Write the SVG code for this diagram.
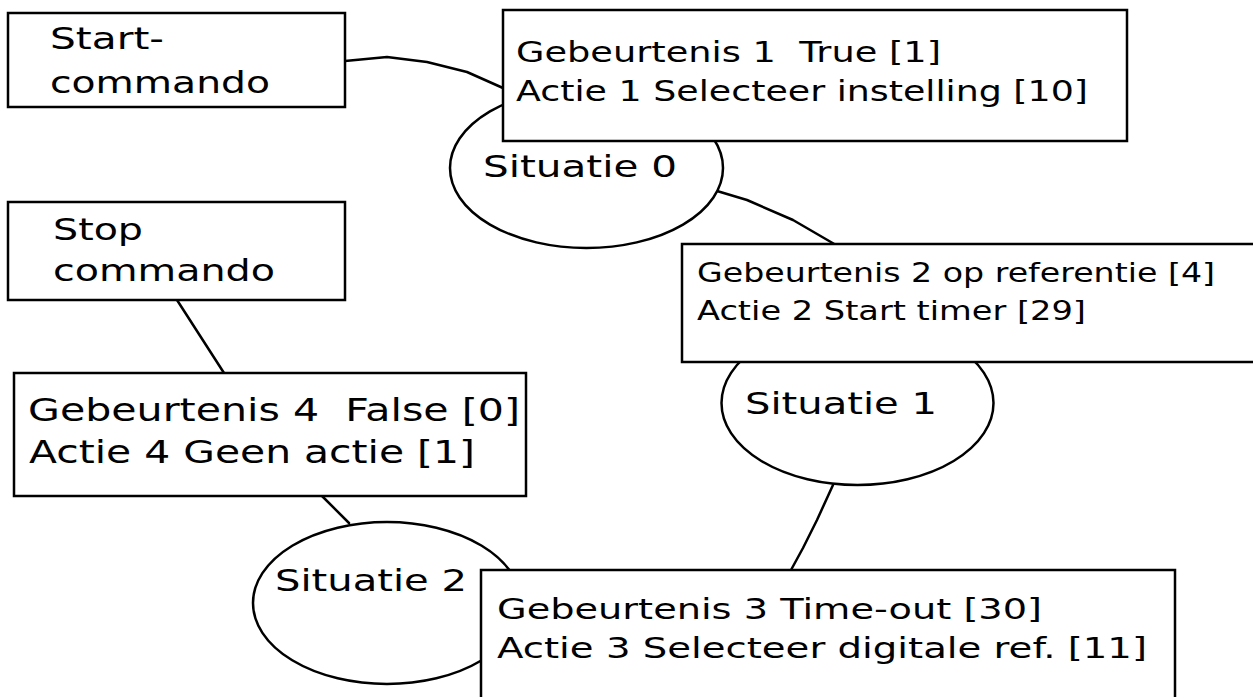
<svg xmlns="http://www.w3.org/2000/svg" width="1253" height="697" viewBox="0 0 1253 697">
<style>
.shape{fill:#fff;stroke:#000;stroke-width:2.5}
.conn{fill:none;stroke:#000;stroke-width:2.5;stroke-linejoin:round;stroke-linecap:round}
text{font-family:"DejaVu Sans","Verdana",sans-serif;fill:#000}
</style>
<rect width="1253" height="697" fill="#fff"/>
<g id="connectors">
<polyline class="conn" points="345,61 387,57 427,62 467,72 503,88"/>
<polyline class="conn" points="717,191 747,200 793,220 836,245"/>
<line class="conn" x1="177" y1="300" x2="224" y2="373"/>
<line class="conn" x1="322" y1="496" x2="349" y2="523"/>
<polyline class="conn" points="833,485 817,520 803,548 791,570"/>
</g>
<g id="situatie0">
<ellipse class="shape" cx="586.5" cy="168" rx="136.5" ry="80"/>
<text x="483" y="177" font-size="31" textLength="194" lengthAdjust="spacingAndGlyphs">Situatie 0</text>
</g>
<g id="situatie1">
<ellipse class="shape" cx="857.5" cy="403" rx="136" ry="82"/>
<text x="745" y="414" font-size="31" textLength="192" lengthAdjust="spacingAndGlyphs">Situatie 1</text>
</g>
<g id="situatie2">
<ellipse class="shape" cx="387" cy="603" rx="134" ry="81"/>
<text x="275" y="591" font-size="31" textLength="192" lengthAdjust="spacingAndGlyphs">Situatie 2</text>
</g>
<g id="start">
<rect class="shape" x="8" y="13" width="337" height="94"/>
<text x="50" y="49" font-size="31" textLength="114" lengthAdjust="spacingAndGlyphs">Start-</text>
<text x="50" y="93" font-size="31" textLength="220" lengthAdjust="spacingAndGlyphs">commando</text>
</g>
<g id="stop">
<rect class="shape" x="8" y="202" width="337" height="98"/>
<text x="53" y="240" font-size="31" textLength="90" lengthAdjust="spacingAndGlyphs">Stop</text>
<text x="53" y="281" font-size="31" textLength="222" lengthAdjust="spacingAndGlyphs">commando</text>
</g>
<g id="gebeurtenis1">
<rect class="shape" x="503" y="10" width="624" height="131"/>
<text x="516" y="62" font-size="27.5" textLength="425" lengthAdjust="spacingAndGlyphs" xml:space="preserve">Gebeurtenis 1  True [1]</text>
<text x="516" y="101" font-size="27.5" textLength="572" lengthAdjust="spacingAndGlyphs">Actie 1 Selecteer instelling [10]</text>
</g>
<g id="gebeurtenis2">
<rect class="shape" x="682" y="244" width="600" height="118"/>
<text x="697" y="282" font-size="26" textLength="518" lengthAdjust="spacingAndGlyphs">Gebeurtenis 2 op referentie [4]</text>
<text x="697" y="320" font-size="26" textLength="389" lengthAdjust="spacingAndGlyphs">Actie 2 Start timer [29]</text>
</g>
<g id="gebeurtenis4">
<rect class="shape" x="14" y="373" width="512" height="123"/>
<text x="28" y="421" font-size="31.5" textLength="492" lengthAdjust="spacingAndGlyphs" xml:space="preserve">Gebeurtenis 4  False [0]</text>
<text x="29" y="463" font-size="31.5" textLength="446" lengthAdjust="spacingAndGlyphs">Actie 4 Geen actie [1]</text>
</g>
<g id="gebeurtenis3">
<rect class="shape" x="481" y="570" width="694" height="150"/>
<text x="497" y="619" font-size="29" textLength="545" lengthAdjust="spacingAndGlyphs">Gebeurtenis 3 Time-out [30]</text>
<text x="497" y="658" font-size="29" textLength="650" lengthAdjust="spacingAndGlyphs">Actie 3 Selecteer digitale ref. [11]</text>
</g>
</svg>
